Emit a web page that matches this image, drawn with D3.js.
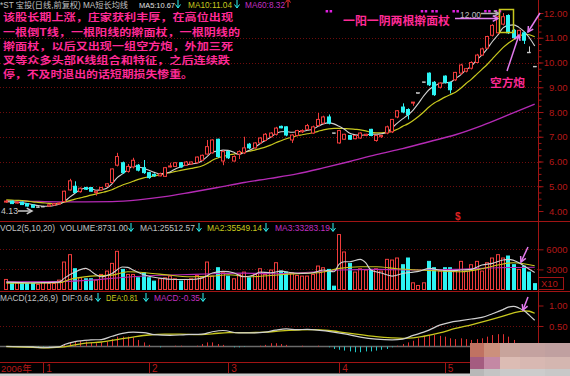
<!DOCTYPE html>
<html>
<head>
<meta charset="utf-8">
<script src="https://cdn.jsdelivr.net/npm/d3@7"></script>
<style>
  html, body { margin: 0; padding: 0; background: #000; overflow: hidden; }
  svg { display: block; }
  text { font-family: "Liberation Sans", "Noto Sans CJK SC", sans-serif; }
  .cn { font-family: "Noto Sans CJK SC", sans-serif; font-weight: bold; }
</style>
</head>
<body>
<div id="chart"></div>
<script>
const width = 570, height = 376;

// 日K线 (前复权)
const opens = [4.36,4.40,4.32,4.36,4.30,4.24,4.17,4.19,4.20,4.24,
  4.28,4.38,4.85,5.00,4.78,4.95,4.95,4.75,4.85,5.00,
  5.15,5.85,5.95,5.60,5.78,5.85,5.75,5.55,5.48,5.42,
  5.40,5.78,5.80,5.95,5.85,5.90,5.95,6.05,6.30,6.35,
  6.90,6.02,6.40,6.02,6.30,6.35,6.70,6.55,6.75,6.85,
  7.00,7.10,7.42,7.40,6.87,7.05,7.20,7.30,7.15,7.45,
  7.55,7.80,7.16,6.75,6.90,7.05,6.92,6.95,7.05,7.30,
  6.85,7.00,7.15,7.20,7.80,8.20,8.10,8.36,8.78,9.22,
  9.57,9.20,9.00,9.45,9.20,9.30,9.57,9.65,9.77,10.00,
  10.30,10.58,11.10,11.20,11.55,11.90,11.30,11.00,11.20,10.42,
  9.85];
const highs = [4.45,4.42,4.38,4.38,4.32,4.26,4.19,4.21,4.27,4.32,
  4.34,4.82,5.30,5.20,4.95,4.98,4.97,4.82,4.97,5.12,
  5.72,6.35,6.00,5.90,6.15,5.90,6.06,5.58,5.52,5.55,
  5.78,5.95,5.98,5.98,6.02,6.00,6.20,6.28,6.87,6.90,
  6.92,6.45,6.45,6.25,6.45,7.00,6.75,6.78,6.98,7.15,
  7.18,7.40,7.45,7.42,7.10,7.28,7.30,7.52,7.45,7.96,
  7.85,7.90,7.16,7.28,7.12,7.08,7.07,7.18,7.12,7.32,
  7.08,7.08,7.45,7.72,8.08,8.35,8.15,8.40,8.78,9.22,
  9.60,9.25,9.20,9.48,9.22,9.62,9.95,9.78,10.05,10.35,
  10.60,11.08,11.55,11.90,12.00,11.95,11.35,11.32,11.25,10.65,
  9.85];
const lows = [4.33,4.28,4.30,4.24,4.18,4.13,4.15,4.17,4.18,4.22,
  4.26,4.36,4.82,4.72,4.74,4.85,4.78,4.62,4.83,4.98,
  5.12,5.80,5.50,5.55,5.72,5.60,5.50,5.30,5.38,5.40,
  5.38,5.76,5.78,5.75,5.82,5.88,5.93,6.02,6.28,6.32,
  6.15,5.85,6.10,6.00,6.10,6.30,6.50,6.52,6.72,6.82,
  6.97,7.05,7.34,7.02,6.75,7.02,7.15,7.28,7.12,7.42,
  7.52,7.50,7.16,6.72,6.88,6.88,6.90,6.92,7.02,7.02,
  6.80,6.95,7.10,7.15,7.75,7.95,7.70,8.25,8.78,9.22,
  9.05,8.65,8.95,9.15,8.75,9.25,9.50,9.60,9.72,9.97,
  10.28,10.55,11.05,11.15,11.50,11.15,10.95,10.95,10.75,10.42,
  9.85];
const closes = [4.40,4.30,4.36,4.26,4.20,4.15,4.17,4.19,4.25,4.30,
  4.32,4.80,5.22,4.75,4.92,4.88,4.80,4.80,4.95,5.10,
  5.70,6.20,5.55,5.80,6.05,5.65,5.55,5.35,5.42,5.50,
  5.75,5.82,5.95,5.78,5.98,5.98,6.18,6.25,6.60,6.87,
  6.20,6.40,6.15,6.20,6.40,6.55,6.55,6.75,6.95,7.10,
  7.15,7.35,7.36,7.07,7.07,7.25,7.25,7.45,7.40,7.70,
  7.80,7.55,7.16,7.25,7.10,6.90,7.05,7.15,7.10,7.05,
  7.05,7.05,7.40,7.70,8.05,8.00,7.90,8.40,8.78,9.22,
  9.10,8.70,9.17,9.20,8.90,9.60,9.90,9.75,10.00,10.30,
  10.55,11.05,11.50,11.85,11.85,11.20,11.00,11.30,10.90,10.42,
  9.85];

// 均线 MA5 / MA10 (每根K线读数)
const ma5 = [4.38,4.37,4.35,4.33,4.30,4.26,4.22,4.19,4.19,4.22,
  4.27,4.38,4.56,4.72,4.86,4.93,4.91,4.84,4.86,4.92,
  5.10,5.35,5.50,5.67,5.82,5.79,5.72,5.65,5.56,5.50,
  5.52,5.58,5.70,5.78,5.86,5.90,5.93,6.02,6.20,6.38,
  6.42,6.46,6.45,6.38,6.28,6.36,6.45,6.56,6.72,6.85,
  6.98,7.12,7.20,7.21,7.18,7.20,7.22,7.26,7.30,7.42,
  7.52,7.56,7.52,7.42,7.30,7.14,7.08,7.06,7.08,7.10,
  7.10,7.12,7.18,7.36,7.55,7.72,7.88,8.08,8.35,8.65,
  8.90,9.05,9.15,9.18,9.20,9.35,9.50,9.70,9.85,10.10,
  10.30,10.55,10.85,11.10,11.40,11.50,11.52,11.42,11.25,11.00,
  10.67];
const ma10 = [4.45,4.44,4.43,4.42,4.40,4.37,4.35,4.33,4.31,4.30,
  4.31,4.36,4.42,4.48,4.53,4.58,4.64,4.69,4.74,4.79,
  4.86,4.96,5.05,5.12,5.20,5.28,5.34,5.38,5.42,5.46,
  5.52,5.55,5.60,5.64,5.68,5.72,5.76,5.82,5.92,6.05,
  6.14,6.20,6.26,6.30,6.34,6.38,6.42,6.46,6.52,6.58,
  6.66,6.76,6.84,6.92,6.98,7.04,7.08,7.12,7.16,7.22,
  7.28,7.32,7.34,7.34,7.33,7.32,7.30,7.28,7.24,7.18,
  7.16,7.16,7.18,7.22,7.30,7.42,7.52,7.66,7.82,8.00,
  8.20,8.36,8.48,8.60,8.70,8.80,8.96,9.15,9.32,9.52,
  9.72,9.92,10.15,10.38,10.60,10.78,10.92,11.05,11.14,11.12,
  11.04];
// MA60 (读数点)
const ma60Idx = [0,5,10,15,20,25,30,35,40,45,50,55,60,65,70,75,80,85,90,95,100];
const ma60 = [4.42,4.39,4.37,4.37,4.38,4.45,4.58,4.76,4.95,5.15,5.32,5.50,5.74,6.00,6.28,6.52,6.80,7.08,7.45,7.88,8.32];

// 成交量 (X10)
const volumes = [1500,900,1000,900,900,900,750,1100,900,900,
  1400,4100,5200,3100,1750,1600,1600,1400,2250,2750,
  3900,5700,3000,2250,2250,1750,2500,1750,1250,1600,
  1750,2000,1600,1250,1500,1600,2100,1750,4100,2000,
  3250,2500,2000,1600,2250,2600,1750,2250,3100,2250,
  2900,4000,2750,2600,2500,2100,2000,2000,2250,3500,
  3250,3000,500,8200,5600,3900,2600,3100,2900,3000,
  3100,2750,4500,4400,4700,3700,4700,1000,600,1000,
  4200,3250,2750,3250,3250,2750,4200,2750,3700,4200,
  2750,4000,4700,5200,4700,5000,3700,3000,3500,2600,
  873];
const volMa1Idx = [0,5,10,11,13,15,17,18,20,22,23,24,26,29,32,35,37,39,41,43,45,47,48,50,52,54,56,58,60,62,63,64,65,67,68,69,71,73,75,77,78,80,82,84,86,88,90,92,94,95,97,98,100];
const volMa1 = [1100,1000,1100,1700,2600,3150,2200,1900,2400,3350,3300,2900,2200,1700,1500,1500,1700,2450,2700,2500,1900,2200,2600,2500,2750,2500,2400,2500,2900,2650,3800,4150,4150,4500,4000,2900,2450,2000,2400,2600,2700,3150,2900,2800,2900,3000,3650,3900,4400,4500,4000,3500,2551];
const volMa2Idx = [0,5,10,12,16,20,23,29,35,39,42,46,50,56,59,63,67,70,74,78,82,86,90,93,96,100];
const volMa2 = [950,950,1000,1500,2000,2150,2650,2300,1900,2000,2200,1900,2100,2400,2500,3150,3400,3400,3100,2900,2750,2650,3100,3650,4000,3555];
const volMa3Idx = [0,10,16,22,28,33,39,45,50,56,63,70,78,85,93,100];
const volMa3 = [1150,1200,1400,1800,2100,2200,2350,2450,2350,2500,2900,3000,2900,3000,3250,3328];

// MACD(12,26,9)
const difIdx = [0,5,7,10,11,13,16,18,20,22,24,26,28,31,34,37,39,41,44,47,49,51,53,55,57,61,64,67,70,73,75,77,79,80,82,84,86,88,90,92,94,95,96,97,98,99,100];
const dif = [0.00,-0.01,-0.03,-0.01,0.05,0.12,0.16,0.17,0.25,0.32,0.35,0.34,0.29,0.27,0.29,0.30,0.36,0.39,0.33,0.33,0.35,0.40,0.43,0.41,0.42,0.37,0.31,0.23,0.18,0.16,0.18,0.27,0.35,0.40,0.52,0.59,0.63,0.67,0.71,0.80,0.90,0.96,0.98,0.94,0.87,0.76,0.64];
const deaIdx = [0,5,8,11,13,15,18,21,24,27,30,33,36,39,42,46,49,52,55,58,61,64,67,70,73,75,77,79,82,85,88,91,94,96,98,99,100];
const dea = [0.00,-0.02,-0.03,-0.01,0.04,0.08,0.11,0.17,0.23,0.28,0.30,0.30,0.29,0.31,0.34,0.34,0.35,0.38,0.40,0.41,0.39,0.34,0.29,0.24,0.21,0.20,0.21,0.25,0.33,0.44,0.53,0.63,0.74,0.82,0.87,0.86,0.81];
const macdBars = [0,0,0,-0.01,-0.01,-0.02,-0.02,-0.02,-0.01,0,
  0.01,0.04,0.10,0.12,0.14,0.12,0.10,0.08,0.10,0.12,
  0.18,0.24,0.24,0.24,0.22,0.16,0.10,0.04,0,-0.02,
  0,0,0.02,0.02,0,0,0.02,0.06,0.10,0.10,
  0.06,0.04,0,-0.02,-0.02,-0.01,0,0,0.02,0.04,
  0.08,0.08,0.06,0.04,0,0,0.02,0,0,0.02,
  0,-0.02,-0.06,-0.08,-0.10,-0.12,-0.14,-0.14,-0.12,-0.12,
  -0.10,-0.08,-0.06,-0.02,0.02,0.06,0.10,0.14,0.20,0.26,
  0.28,0.28,0.26,0.24,0.20,0.18,0.20,0.18,0.16,0.18,
  0.20,0.24,0.28,0.30,0.30,0.24,0.16,0.08,-0.06,-0.20,
  -0.35];

// 坐标轴
const monthIdx = [7, 27, 42, 63, 83];
const monthLabels = ['1', '2', '3', '4', '5'];
const priceTicks = [4, 5, 6, 7, 8, 9, 10, 11, 12];
const volTicks = [3000, 6000];
const macdTicks = [0.5, 1.0];
const markIdx = [61, 79, 81, 85, 91, 93];

const RED = '#f03c3c', CYAN = '#2cf4f4', WHITE = '#d0d0d0', YELLOW = '#c8c81e', PURPLE = '#b42ab4';
const AXIS = '#a01414', GRID = '#6e0c0c', PINK = '#ff2a95', VIOLET = '#e47cf0';

const N = closes.length;
const x = d3.scaleBand().domain(d3.range(N)).range([4.4, 536.6]).paddingInner(0.28);
const cx = i => x(i) + x.bandwidth() / 2;
const y = d3.scaleLinear().domain([4, 12]).range([211, 13]);
const yVol = d3.scaleLinear().domain([0, 6000]).range([289.5, 249.3]);
const yMacd = d3.scaleLinear().domain([0, 1]).range([346.5, 305.5]);

const svg = d3.select('#chart').append('svg')
    .attr('width', width)
    .attr('height', height);

svg.append('rect').attr('width', width).attr('height', height).attr('fill', '#000');

// 网格线
function dotted(values, scale) {
    svg.append('g').selectAll('line')
        .data(values)
        .enter().append('line')
        .attr('x1', 0).attr('x2', 538)
        .attr('y1', d => Math.round(scale(d)) + 0.5)
        .attr('y2', d => Math.round(scale(d)) + 0.5)
        .attr('stroke', GRID)
        .attr('stroke-dasharray', '1,2');
}
dotted([5, 6, 7, 8, 9, 10, 11], y);
dotted(volTicks, yVol);
dotted([0.5], yMacd);

// 分隔线
[221.5, 291.5, 362.5].forEach(v => {
    svg.append('line').attr('x1', 0).attr('x2', width).attr('y1', v).attr('y2', v)
        .attr('stroke', AXIS);
});
svg.append('line').attr('x1', 538.5).attr('x2', 538.5).attr('y1', 0).attr('y2', 362)
    .attr('stroke', AXIS);

// 均线
const lineAll = (arr, scale) => d3.line()
    .x((d, i) => cx(i))
    .y(d => scale(d))
    .curve(d3.curveMonotoneX)(arr);
const lineIdx = (idx, arr, scale) => d3.line()
    .x(d => cx(d[0]))
    .y(d => scale(d[1]))
    .curve(d3.curveMonotoneX)(idx.map((k, j) => [k, arr[j]]));

svg.append('path').attr('d', lineIdx(ma60Idx, ma60, y)).attr('fill', 'none').attr('stroke', PURPLE).attr('stroke-width', 1.4);
svg.append('path').attr('d', lineAll(ma10, y)).attr('fill', 'none').attr('stroke', YELLOW).attr('stroke-width', 1.2);
svg.append('path').attr('d', lineAll(ma5, y)).attr('fill', 'none').attr('stroke', WHITE).attr('stroke-width', 1.1);

// K线
const bw = Math.max(2, Math.round(x.bandwidth()) - 1);
const kind = i => closes[i] > opens[i] ? 'up' : closes[i] < opens[i] ? 'down' : 'flat';
const kColor = i => ({ up: RED, down: CYAN, flat: WHITE })[kind(i)];

const k = svg.append('g').selectAll('.k')
    .data(d3.range(N))
    .enter().append('g')
    .attr('class', 'k');

k.append('line')
    .attr('x1', i => Math.round(cx(i)) + 0.5)
    .attr('x2', i => Math.round(cx(i)) + 0.5)
    .attr('y1', i => y(highs[i]))
    .attr('y2', i => y(lows[i]))
    .attr('stroke', kColor);

k.append('rect')
    .attr('x', i => Math.round(cx(i)) - (bw + 1) / 2 + 0.5)
    .attr('y', i => y(Math.max(opens[i], closes[i])))
    .attr('width', bw)
    .attr('height', i => Math.max(0.8, Math.abs(y(opens[i]) - y(closes[i]))))
    .attr('fill', i => kind(i) === 'up' ? '#000' : kColor(i))
    .attr('stroke', kColor)
    .attr('stroke-width', i => kind(i) === 'flat' ? 0.6 : 1);

// 成交量
const vColor = i => {
    if (kind(i) !== 'flat') return kColor(i);
    return i > 0 && closes[i] >= closes[i - 1] ? RED : CYAN;
};
svg.append('g').selectAll('rect')
    .data(d3.range(N))
    .enter().append('rect')
    .attr('x', i => Math.round(cx(i)) - (bw + 1) / 2 + 0.5)
    .attr('y', i => yVol(volumes[i]))
    .attr('width', bw)
    .attr('height', i => yVol(0) - yVol(volumes[i]))
    .attr('fill', i => vColor(i) === RED ? '#000' : CYAN)
    .attr('stroke', vColor);

[[volMa3Idx, volMa3, PURPLE], [volMa2Idx, volMa2, YELLOW], [volMa1Idx, volMa1, WHITE]].forEach(s => {
    svg.append('path').attr('d', lineIdx(s[0], s[1], yVol))
        .attr('fill', 'none').attr('stroke', s[2]).attr('stroke-width', 1.1);
});

// MACD
svg.append('line').attr('x1', 0).attr('x2', 538).attr('y1', yMacd(0)).attr('y2', yMacd(0))
    .attr('stroke', '#6a6a6a').attr('stroke-width', 1.5);
svg.append('g').selectAll('line')
    .data(d3.range(N))
    .enter().append('line')
    .attr('x1', i => Math.round(cx(i)) + 0.5)
    .attr('x2', i => Math.round(cx(i)) + 0.5)
    .attr('y1', yMacd(0))
    .attr('y2', i => yMacd(macdBars[i]))
    .attr('stroke', i => macdBars[i] >= 0 ? '#e03030' : '#20c8c8');
svg.append('path').attr('d', lineIdx(deaIdx, dea, yMacd)).attr('fill', 'none').attr('stroke', YELLOW).attr('stroke-width', 1.3);
svg.append('path').attr('d', lineIdx(difIdx, dif, yMacd)).attr('fill', 'none').attr('stroke', WHITE).attr('stroke-width', 1.2);

// 右侧坐标轴
function rightAxis(scale, values, fmt) {
    const ax = svg.append('g')
        .attr('transform', 'translate(538.5,0)')
        .call(d3.axisRight(scale).tickValues(values).tickFormat(fmt).tickSize(5).tickPadding(3));
    ax.select('.domain').remove();
    ax.selectAll('line').attr('stroke', AXIS);
    ax.selectAll('text').attr('fill', '#b41818').style('font-size', '9.5px')
        .attr('text-anchor', 'end').attr('x', 29);
}
rightAxis(y, priceTicks, d3.format('.2f'));
rightAxis(yVol, volTicks, d3.format('d'));
rightAxis(yMacd, macdTicks, d3.format('.2f'));

svg.append('g').attr('transform', 'translate(538.5,0)')
    .call(d3.axisRight(y).tickValues(d3.range(4, 12.01, 0.25)).tickFormat('').tickSize(3))
    .call(g => g.select('.domain').remove())
    .selectAll('line').attr('stroke', AXIS);

svg.append('rect').attr('x', 538.5).attr('y', 277.5).attr('width', 25).attr('height', 12)
    .attr('fill', 'none').attr('stroke', AXIS);
svg.append('text').attr('x', 541).attr('y', 287).text('X10')
    .attr('fill', '#b41818').style('font-size', '9.5px');

// 底部日期轴
svg.append('g').selectAll('line')
    .data(monthIdx)
    .enter().append('line')
    .attr('x1', i => Math.round(cx(i)) + 0.5).attr('x2', i => Math.round(cx(i)) + 0.5)
    .attr('y1', 362).attr('y2', 373)
    .attr('stroke', AXIS);
svg.append('g').selectAll('text')
    .data(monthIdx)
    .enter().append('text')
    .attr('x', i => cx(i) + 3)
    .attr('y', 371.5)
    .text((d, j) => monthLabels[j])
    .attr('fill', '#b41818')
    .style('font-size', '10px');
svg.append('text').attr('x', 1).attr('y', 371.5).text('2006年')
    .attr('fill', '#b41818').style('font-size', '9.5px');
svg.append('rect').attr('x', 0).attr('y', 373.5).attr('width', width).attr('height', 3).attr('fill', '#cdcdcd');

// 标题行
function label(x0, y0, txt, color, len, size) {
    const t = svg.append('text').attr('x', x0).attr('y', y0).text(txt)
        .attr('fill', color).style('font-size', (size || 8.4) + 'px');
    if (len) t.attr('textLength', len).attr('lengthAdjust', 'spacingAndGlyphs');
    return t;
}
function tick(x0, y0, up) {
    const c = up ? '#ff3030' : CYAN;
    svg.append('line').attr('x1', x0).attr('x2', x0).attr('y1', y0 - 8).attr('y2', y0).attr('stroke', c);
    svg.append('path').attr('d', up
        ? `M${x0 - 2.5},${y0 - 5}L${x0},${y0 - 8.5}L${x0 + 2.5},${y0 - 5}`
        : `M${x0 - 2.5},${y0 - 3}L${x0},${y0 + 0.5}L${x0 + 2.5},${y0 - 3}`)
        .attr('fill', 'none').attr('stroke', c);
}
label(0, 7.5, '*ST 宝投(日线,前复权) MA短长均线', '#c0c0c0', 128, 8.2);
label(139, 7.5, 'MA5:10.67', '#e0e0e0', 36, 7.8); tick(178, 7.5);
label(188, 7.5, 'MA10:11.04', YELLOW, 44, 8.2); tick(237, 7.5);
label(245, 7.5, 'MA60:8.32', '#c030c0', 40, 8.2); tick(288, 7.5, true);

label(0, 231, 'VOL2(5,10,20)', '#c0c0c0', 55);
label(60, 231, 'VOLUME:8731.00', '#c0c0c0', 68); tick(131, 231);
label(140, 231, 'MA1:25512.57', '#c0c0c0', 55); tick(199, 231);
label(207, 231, 'MA2:35549.14', YELLOW, 55); tick(266, 231);
label(275, 231, 'MA3:33283.19', '#c030c0', 55); tick(333, 231);

label(0, 301, 'MACD(12,26,9)', '#c0c0c0', 58);
label(62, 301, 'DIF:0.64', '#c0c0c0', 31); tick(98, 301);
label(106, 301, 'DEA:0.81', YELLOW, 32); tick(146, 301);
label(154, 301, 'MACD:-0.35', '#c030c0', 46); tick(203, 301);

// 信号点
markIdx.forEach(i => {
    [-2, 2].forEach(o => svg.append('rect').attr('x', cx(i) + o - 1).attr('y', 10).attr('width', 2.5).attr('height', 2.5).attr('fill', '#e020e0'));
});

// 最高/最低价标记
label(1, 214, '4.13', '#c8c8c8', 17, 9.5);
label(460, 18, '12.00', '#c0c0c0', 21, 9.5);

// 注释
const ann = svg.append('g');
function arrow(x1, y1, x2, y2, color) {
    const a = Math.atan2(y2 - y1, x2 - x1), h = 6;
    ann.append('line').attr('x1', x1).attr('y1', y1).attr('x2', x2).attr('y2', y2)
        .attr('stroke', color).attr('stroke-width', 1.5);
    ann.append('path')
        .attr('d', `M${x2 - h * Math.cos(a - 0.5)},${y2 - h * Math.sin(a - 0.5)}L${x2},${y2}L${x2 - h * Math.cos(a + 0.5)},${y2 - h * Math.sin(a + 0.5)}`)
        .attr('fill', 'none').attr('stroke', color).attr('stroke-width', 1.5);
}
arrow(18, 211, 32, 211, '#c8c8c8');
arrow(481, 13.5, 499, 13.5, '#b0b0b0');
arrow(455, 18.5, 498, 18.5, VIOLET);
arrow(507, 71, 519, 35, VIOLET);
arrow(540, 13, 528, 32, VIOLET);
arrow(528, 247, 521, 262, VIOLET);
arrow(528, 297, 523, 310, VIOLET);

ann.append('rect').attr('x', 499.5).attr('y', 9.5).attr('width', 14).attr('height', 23)
    .attr('fill', 'none').attr('stroke', YELLOW).attr('stroke-width', 1.5);

const notes = [
    ['该股长期上涨，庄家获利丰厚，在高位出现', 21.2, 230],
    ['一根倒T线，一根阳线的擀面杖，一根阴线的', 35.5, 237],
    ['擀面杖，以后又出现一组空方炮，外加三死', 49.8, 230],
    ['叉等众多头部K线组合和特征，之后连续跌', 64.1, 227],
    ['停，不及时退出的话短期损失惨重。', 78.4, 190]
];
notes.forEach(n => {
    ann.append('text').attr('class', 'cn').attr('x', 3).attr('y', n[1]).text(n[0])
        .attr('fill', PINK).style('font-size', '9.8px')
        .attr('textLength', n[2]).attr('lengthAdjust', 'spacingAndGlyphs');
});
ann.append('text').attr('class', 'cn').attr('x', 343).attr('y', 24.5).text('一阳一阴两根擀面杖')
    .attr('fill', PINK).style('font-size', '11.5px').attr('textLength', 107).attr('lengthAdjust', 'spacingAndGlyphs');
ann.append('text').attr('class', 'cn').attr('x', 490).attr('y', 86.5).text('空方炮')
    .attr('fill', PINK).style('font-size', '11.5px').attr('textLength', 35).attr('lengthAdjust', 'spacingAndGlyphs');
ann.append('text').attr('x', 455).attr('y', 220).text('$')
    .attr('fill', '#e02020').style('font-size', '10px').style('font-weight', 'bold');

// 右下角水印马赛克
const mosaicCols = [470, 484, 500, 520, 545, 570];
const mosaicRows = [343, 357, 369, 376];
const mosaicColors = [
    ['#c07262', '#cc907c', '#c8a49c', '#c4a2a0', '#c0a0a0'],
    ['#a45c80', '#c488a4', '#dcbcb4', '#d8b8b2', '#d4b6b0'],
    ['#b8b8b8', '#c4c4c4', '#cacaca', '#cccccc', '#c8c8c8']
];
mosaicColors.forEach((row, r) => row.forEach((c, j) => {
    svg.append('rect').attr('x', mosaicCols[j]).attr('y', mosaicRows[r])
        .attr('width', mosaicCols[j + 1] - mosaicCols[j]).attr('height', mosaicRows[r + 1] - mosaicRows[r])
        .attr('fill', c);
}));
</script>
</body>
</html>
